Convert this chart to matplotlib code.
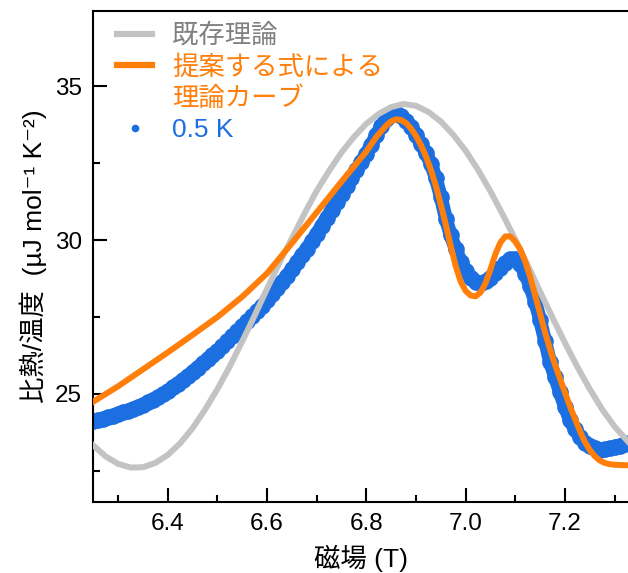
import matplotlib.pyplot as plt
import numpy as np
from matplotlib.ticker import MultipleLocator

plt.rcParams['font.family'] = ['Liberation Sans', 'Noto Sans CJK JP', 'DejaVu Sans']

# 既存理論 (gray)
field_old = [6.250, 6.275, 6.300, 6.325, 6.350, 6.375, 6.400, 6.425, 6.450, 6.475,
             6.500, 6.525, 6.550, 6.575, 6.600, 6.625, 6.650, 6.675, 6.700, 6.725,
             6.750, 6.775, 6.800, 6.825, 6.850, 6.875, 6.900, 6.925, 6.950, 6.975,
             7.000, 7.025, 7.050, 7.075, 7.100, 7.125, 7.150, 7.175, 7.200, 7.225,
             7.250, 7.275, 7.300, 7.330]
cv_old = [23.33, 22.97, 22.73, 22.61, 22.62, 22.76, 23.02, 23.40, 23.89, 24.49,
          25.16, 25.90, 26.71, 27.55, 28.42, 29.27, 30.05, 30.85, 31.60, 32.25,
          32.85, 33.35, 33.78, 34.10, 34.32, 34.42, 34.36, 34.16, 33.85, 33.42,
          32.90, 32.28, 31.58, 30.82, 30.02, 29.18, 28.32, 27.48, 26.66, 25.88,
          25.16, 24.50, 23.94, 23.40]

# 提案する式による理論カーブ (orange)
field_new = [6.25, 6.30, 6.35, 6.40, 6.45, 6.50, 6.55, 6.60, 6.65, 6.70,
             6.75, 6.80, 6.82, 6.84, 6.85, 6.86, 6.87, 6.88, 6.89, 6.90,
             6.91, 6.92, 6.93, 6.94, 6.95, 6.96, 6.97, 6.98, 6.99, 7.00,
             7.01, 7.02, 7.03, 7.04, 7.05, 7.06, 7.07, 7.08, 7.09, 7.10,
             7.11, 7.12, 7.13, 7.14, 7.15, 7.16, 7.17, 7.18, 7.19, 7.20,
             7.21, 7.22, 7.23, 7.24, 7.25, 7.26, 7.27, 7.28, 7.29, 7.30, 7.33]
cv_new = [24.75, 25.25, 25.80, 26.35, 26.92, 27.50, 28.16, 28.92, 29.90, 30.90,
          31.90, 32.88, 33.35, 33.72, 33.86, 33.92, 33.90, 33.80, 33.62, 33.38,
          33.08, 32.72, 32.28, 31.76, 31.15, 30.50, 29.80, 29.15, 28.65, 28.35,
          28.20, 28.17, 28.30, 28.60, 29.05, 29.55, 29.92, 30.12, 30.12, 29.95,
          29.70, 29.30, 28.80, 28.20, 27.60, 27.00, 26.45, 25.95, 25.50, 25.05,
          24.60, 24.20, 23.80, 23.45, 23.18, 22.98, 22.84, 22.76, 22.72, 22.70, 22.68]

# 0.5 K data (blue)
field_exp = np.round(np.arange(6.25, 7.325, 0.01), 2)
cv_exp = [24.12, 24.16, 24.20, 24.24, 24.29, 24.35, 24.40, 24.46, 24.52, 24.58,
          24.65, 24.73, 24.82, 24.90, 25.00, 25.10, 25.22, 25.34, 25.46, 25.58,
          25.72, 25.86, 25.99, 26.12, 26.26, 26.40, 26.56, 26.72, 26.88, 27.04,
          27.20, 27.36, 27.52, 27.70, 27.86, 28.05, 28.25, 28.45, 28.64, 28.84,
          29.05, 29.28, 29.50, 29.72, 29.96, 30.20, 30.46, 30.72, 30.97, 31.24,
          31.50, 31.76, 32.02, 32.28, 32.54, 32.80, 33.10, 33.40, 33.70, 33.92,
          34.06, 34.12, 34.04, 33.88, 33.68, 33.42, 33.12, 32.82, 32.48, 32.00,
          31.40, 30.70, 30.15, 29.70, 29.30, 29.00, 28.78, 28.64, 28.60, 28.66,
          28.78, 28.92, 29.08, 29.24, 29.38, 29.40, 29.22, 28.90, 28.50, 28.00,
          27.40, 26.72, 26.04, 25.55, 25.05, 24.58, 24.15, 23.86, 23.60, 23.42,
          23.32, 23.24, 23.18, 23.20, 23.24, 23.28, 23.32, 23.38]

gray = '#c3c3c3'
orange = '#ff7f0a'
blue = '#1c6fe0'

fig = plt.figure(figsize=(6.28, 5.73), dpi=100)
ax = fig.add_axes([0.1486, 0.1244, 0.8514, 0.8569])

ax.plot(field_exp, cv_exp, '-o', color=blue, lw=10, ms=12, mec='none', zorder=2)
ax.plot(field_old, cv_old, color=gray, lw=4.3, zorder=3)
ax.plot(field_new, cv_new, color=orange, lw=4.3, zorder=4)

ax.set_xlim(6.25, 7.327)
ax.set_ylim(21.5, 37.45)
ax.xaxis.set_major_locator(MultipleLocator(0.2))
ax.xaxis.set_minor_locator(MultipleLocator(0.1))
ax.yaxis.set_major_locator(MultipleLocator(5))
ax.yaxis.set_minor_locator(MultipleLocator(2.5))
ax.xaxis.set_major_formatter(plt.FormatStrFormatter('%.1f'))
ax.tick_params(which='both', direction='in', width=1.5, labelsize=17.5, top=False, right=False)
ax.tick_params(which='major', length=10, pad=8)
ax.tick_params(which='minor', length=5)
ax.spines['right'].set_visible(False)
for s in ['left', 'bottom', 'top']:
    ax.spines[s].set_linewidth(1.5)

ax.set_xlabel('磁場 (T)', fontsize=19, labelpad=7)
ax.set_ylabel('比熱/温度  (µJ mol⁻¹ K⁻²)', fontsize=19, labelpad=6)

h_old = plt.Line2D([], [], color=gray, lw=4.5)
h_new = plt.Line2D([], [], color=orange, lw=4.5)
h_blank = plt.Line2D([], [], color='none')
h_exp = plt.Line2D([], [], ls='none', marker='o', color=blue, ms=5.5, mec='none')
leg = ax.legend([h_old, h_new, h_blank, h_exp],
                ['既存理論', '提案する式による', '理論カーブ', '0.5 K'],
                loc='upper left', bbox_to_anchor=(0.0245, 0.996), frameon=False,
                fontsize=19, handlelength=1.33, handletextpad=0.76, labelspacing=0.26,
                borderpad=0.4, borderaxespad=0.0)
for t, c in zip(leg.get_texts(), ['#808080', orange, orange, blue]):
    t.set_color(c)

fig.savefig('out.png', dpi=100)
